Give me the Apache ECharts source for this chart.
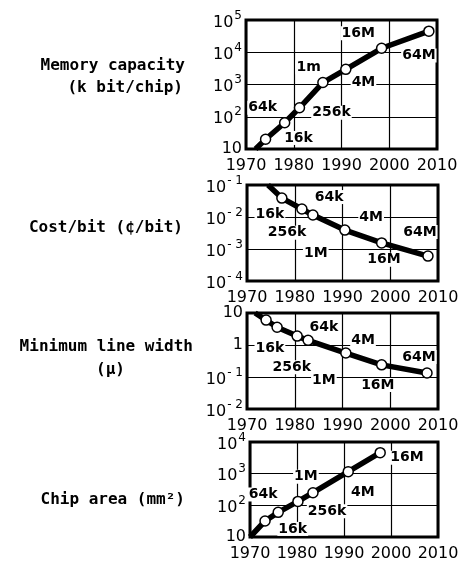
<!DOCTYPE html>
<html>
<head>
<meta charset="utf-8">
<script src="https://cdn.jsdelivr.net/npm/echarts@6/dist/echarts.min.js"></script>
<style>
html, body { margin: 0; padding: 0; background: #fff; }
#chart { width: 464px; height: 562px; }
</style>
</head>
<body>
<div id="chart"></div>
<script>
// 横轴范围
const yearMin = 1970
const yearMax = 2010

// Memory capacity (k bit/chip) - 第一个点只是线的起点, 不画圆圈
const memYears = [1972, 1974.1, 1978.1, 1981.2, 1986.1, 1990.9, 1998.4, 2008.3]
const memValues = [10, 20, 65, 190, 1150, 2950, 13300, 45000]
const memLabels = ['16M', '64M', '1m', '4M', '64k', '256k', '16k']
const memLabelYears = [1993.5, 2006.2, 1983.1, 1994.6, 1973.5, 1987.9, 1981.0]
const memLabelValues = [39000, 8000, 3400, 1150, 190, 133, 22]

// Cost/bit (¢/bit)
const costYears = [1974.4, 1977.3, 1981.5, 1983.8, 1990.5, 1998.2, 2007.9]
const costValues = [0.1, 0.039, 0.0178, 0.0115, 0.0039, 0.00155, 0.0006]
const costLabels = ['64k', '16k', '4M', '256k', '64M', '1M', '16M']
const costLabelYears = [1987.2, 1974.8, 1996, 1978.4, 2006.2, 1984.4, 1998.7]
const costLabelValues = [0.042, 0.0125, 0.01, 0.0032, 0.0034, 0.00075, 0.00046]

// Minimum line width (μ)
const widthYears = [1971.7, 1974, 1976.3, 1980.5, 1982.8, 1990.7, 1998.2, 2007.7]
const widthValues = [10, 6, 3.6, 1.9, 1.4, 0.56, 0.24, 0.133]
const widthLabels = ['64k', '16k', '4M', '256k', '64M', '1M', '16M']
const widthLabelYears = [1986.1, 1974.8, 1994.3, 1979.4, 2006, 1986.1, 1997.4]
const widthLabelValues = [3.6, 0.81, 1.44, 0.2, 0.42, 0.081, 0.056]

// Chip area (mm2)
const areaYears = [1970, 1973.2, 1976, 1980.2, 1983.4, 1990.9, 1997.7]
const areaValues = [10, 32, 60, 133, 250, 1160, 4600]
const areaLabels = ['16M', '1M', '4M', '64k', '256k', '16k']
const areaLabelYears = [2003.4, 1981.9, 1994, 1972.8, 1986.4, 1979.1]
const areaLabelValues = [3160, 800, 250, 220, 65, 18]

// 每个面板: 纵轴范围和位置
const panels = [
    { years: memYears, values: memValues, labels: memLabels, lx: memLabelYears, ly: memLabelValues,
      yMin: 10, yMax: 1e5, grid: { left: 246, right: 27, top: 20, height: 129 } },
    { years: costYears, values: costValues, labels: costLabels, lx: costLabelYears, ly: costLabelValues,
      yMin: 1e-4, yMax: 1e-1, grid: { left: 247, right: 26, top: 185, height: 96 } },
    { years: widthYears, values: widthValues, labels: widthLabels, lx: widthLabelYears, ly: widthLabelValues,
      yMin: 1e-2, yMax: 10, grid: { left: 247, right: 26, top: 313, height: 96 } },
    { years: areaYears, values: areaValues, labels: areaLabels, lx: areaLabelYears, ly: areaLabelValues,
      yMin: 10, yMax: 1e4, grid: { left: 250, right: 26, top: 442, height: 96 } }
]

const tickFont = 'DejaVu Sans'
const titleFont = 'bold 16px "DejaVu Sans Mono"'

// 10的幂次标签
function powerLabel(v){
    const e = Math.round(Math.log10(v))
    if(e === 1) return '{b|10}'
    if(e === 0) return '{b|1}'
    return '{b|10}{s|' + (e < 0 ? '- ' + (-e) : e) + '}'
}

const option = {
    animation: false,
    backgroundColor: '#fff',
    grid: [],
    xAxis: [],
    yAxis: [],
    series: [],
    graphic: []
}

panels.forEach((p, i) => {
    option.grid.push(Object.assign({ show: true, borderColor: '#000', borderWidth: 3, backgroundColor: 'transparent' }, p.grid))
    option.xAxis.push({
        type: 'value', gridIndex: i, min: yearMin, max: yearMax, interval: 10,
        axisLine: { show: false }, axisTick: { show: false },
        splitLine: { show: true, lineStyle: { color: '#000', width: 1.2 } },
        axisLabel: { color: '#000', fontSize: 16, fontFamily: tickFont, margin: 9,
            formatter: v => String(v) }
    })
    option.yAxis.push({
        type: 'log', logBase: 10, gridIndex: i, min: p.yMin, max: p.yMax,
        axisLine: { show: false }, axisTick: { show: false },
        splitLine: { show: true, lineStyle: { color: '#000', width: 1.2 } },
        axisLabel: {
            color: '#000', fontFamily: tickFont, margin: 4,
            formatter: powerLabel,
            rich: {
                b: { fontSize: 16, fontFamily: tickFont, color: '#000', verticalAlign: 'bottom' },
                s: { fontSize: 12, fontFamily: tickFont, color: '#000', verticalAlign: 'bottom', padding: [0, 0, 9, 1] }
            }
        }
    })
    // 粗线 + 空心圆
    option.series.push({
        type: 'line', xAxisIndex: i, yAxisIndex: i, z: 3,
        data: p.years.map((y, k) => k === 0 ? { value: [y, p.values[k]], symbol: 'none' } : [y, p.values[k]]),
        symbol: 'circle', symbolSize: 10,
        itemStyle: { color: '#fff', borderColor: '#000', borderWidth: 1.5 },
        lineStyle: { color: '#000', width: 5.5 }
    })
    // 标注文字
    option.series.push({
        type: 'scatter', xAxisIndex: i, yAxisIndex: i, z: 4,
        symbolSize: 0,
        itemStyle: { opacity: 1 },
        data: p.labels.map((n, k) => ({ name: n, value: [p.lx[k], p.ly[k]] })),
        label: {
            show: true, position: 'inside', formatter: '{b}', opacity: 1,
            color: '#000', fontSize: 14, fontWeight: 'bold', fontFamily: tickFont,
            backgroundColor: '#fff', padding: [0, 1]
        }
    })
})

// 左边的标题
const titles = [
    ['Memory capacity', 185, 66],
    ['(k bit/chip)', 183, 88],
    ['Cost/bit (\u00a2/bit)', 183, 228],
    ['Minimum line width', 193, 347],
    ['(\u03bc)', 125, 370],
    ['Chip area (mm\u00b2)', 185, 500]
]
titles.forEach(t => {
    option.graphic.push({
        type: 'text', x: t[1], y: t[2],
        style: { text: t[0], font: titleFont, fill: '#000', align: 'right', verticalAlign: 'middle' }
    })
})

const chart = echarts.init(document.getElementById('chart'))
chart.setOption(option)
</script>
</body>
</html>
